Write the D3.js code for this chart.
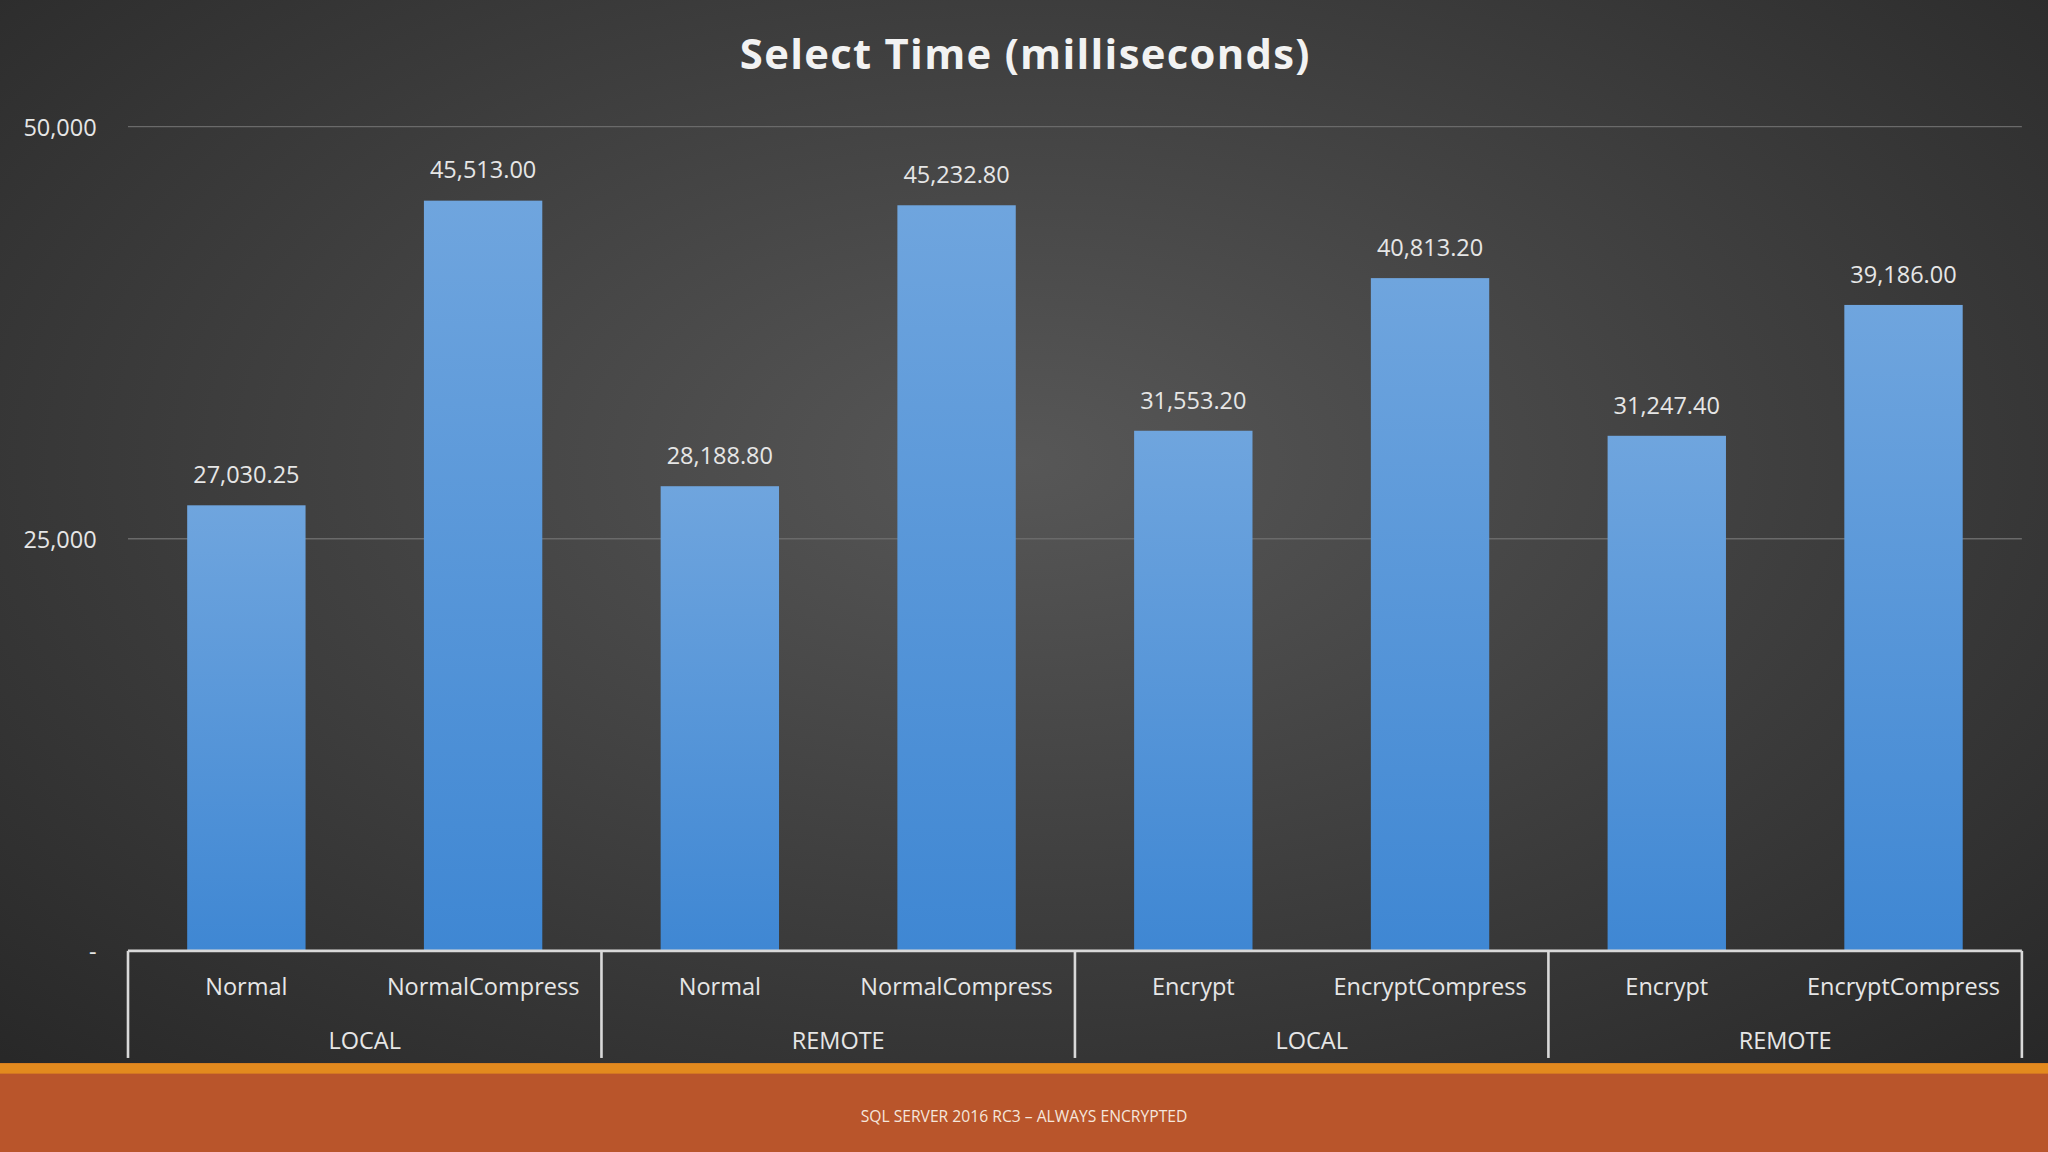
<!DOCTYPE html>
<html>
<head>
<meta charset="utf-8">
<script src="https://cdn.jsdelivr.net/npm/d3@7"></script>
<style>
  html, body { margin: 0; padding: 0; background: #2b2b2b; overflow: hidden; }
  svg { display: block; }
</style>
</head>
<body>
<script>
// chart data
const categories = ["Normal", "NormalCompress", "Normal", "NormalCompress", "Encrypt", "EncryptCompress", "Encrypt", "EncryptCompress"];
const groups = ["LOCAL", "REMOTE", "LOCAL", "REMOTE"];
const values = [27030.25, 45513.00, 28188.80, 45232.80, 31553.20, 40813.20, 31247.40, 39186.00];
const yTicks = [0, 25000, 50000];

// drawn in a 1568x882 space, scaled to the window
const W = 1568, H = 882;
const svg = d3.select("body").append("svg")
    .attr("width", 2048).attr("height", 1152)
    .attr("viewBox", `0 0 ${W} ${H}`);

const defs = svg.append("defs");
const bg = defs.append("radialGradient").attr("id", "bg")
    .attr("cx", "50%").attr("cy", "40%").attr("r", "75%");
bg.append("stop").attr("offset", "0%").attr("stop-color", "#575757");
bg.append("stop").attr("offset", "100%").attr("stop-color", "#262626");
const barGrad = defs.append("linearGradient").attr("id", "bar")
    .attr("x1", 0).attr("y1", 0).attr("x2", 0).attr("y2", 1);
barGrad.append("stop").attr("offset", "0%").attr("stop-color", "#6fa5de");
barGrad.append("stop").attr("offset", "100%").attr("stop-color", "#3f87d3");

svg.append("rect").attr("width", W).attr("height", H).attr("fill", "url(#bg)");

const font = "'Open Sans', 'Liberation Sans', sans-serif";
const plotLeft = 98, plotRight = 1548, plotTop = 97, plotBottom = 728;

const x = d3.scaleBand().domain(d3.range(categories.length))
    .range([plotLeft, plotRight]).paddingInner(0.5).paddingOuter(0.25);
const y = d3.scaleLinear().domain([0, 50000]).range([plotBottom, plotTop]);

// title
svg.append("text").attr("x", 785).attr("y", 53).attr("text-anchor", "middle")
    .attr("fill", "#f2f2f2").attr("font-family", font).attr("font-weight", "bold")
    .attr("font-size", 32).attr("letter-spacing", 1).text("Select Time (milliseconds)");

// gridlines + y labels
const yAxis = svg.append("g");
yTicks.forEach(t => {
    if (t > 0) {
        yAxis.append("line").attr("x1", plotLeft).attr("x2", plotRight)
            .attr("y1", y(t)).attr("y2", y(t))
            .attr("stroke", "#6a6a6a").attr("stroke-width", 1);
    }
    yAxis.append("text").attr("x", 74).attr("y", y(t) + 7).attr("text-anchor", "end")
        .attr("fill", "#e6e6e6").attr("font-family", font).attr("font-size", 18)
        .text(t === 0 ? "-" : d3.format(",")(t));
});

// bars
svg.append("g").selectAll("rect").data(values).join("rect")
    .attr("x", (d, i) => x(i)).attr("width", x.bandwidth())
    .attr("y", d => y(d)).attr("height", d => plotBottom - y(d))
    .attr("fill", "url(#bar)");

svg.append("g").selectAll("text").data(values).join("text")
    .attr("x", (d, i) => x(i) + x.bandwidth() / 2).attr("y", d => y(d) - 17)
    .attr("text-anchor", "middle").attr("fill", "#e6e6e6")
    .attr("font-family", font).attr("font-size", 18)
    .text(d => d3.format(",.2f")(d));

// category axis with group brackets
const ax = svg.append("g").attr("stroke", "#d9d9d9").attr("stroke-width", 2);
ax.append("line").attr("x1", plotLeft).attr("x2", plotRight).attr("y1", plotBottom).attr("y2", plotBottom);
const step = (plotRight - plotLeft) / groups.length;
d3.range(groups.length + 1).forEach(i => {
    ax.append("line").attr("x1", plotLeft + i * step).attr("x2", plotLeft + i * step)
        .attr("y1", plotBottom).attr("y2", 810);
});
svg.append("g").selectAll("text").data(categories).join("text")
    .attr("x", (d, i) => x(i) + x.bandwidth() / 2).attr("y", 762)
    .attr("text-anchor", "middle").attr("fill", "#e6e6e6")
    .attr("font-family", font).attr("font-size", 18).text(d => d);
svg.append("g").selectAll("text").data(groups).join("text")
    .attr("x", (d, i) => plotLeft + (i + 0.5) * step).attr("y", 803)
    .attr("text-anchor", "middle").attr("fill", "#e6e6e6")
    .attr("font-family", font).attr("font-size", 18).text(d => d);

// footer band
svg.append("rect").attr("x", 0).attr("y", 814).attr("width", W).attr("height", 68).attr("fill", "#b9552b");
svg.append("rect").attr("x", 0).attr("y", 814).attr("width", W).attr("height", 8).attr("fill", "#e38a1e");
svg.append("text").attr("x", 784).attr("y", 859).attr("text-anchor", "middle")
    .attr("fill", "#f5e6dc").attr("font-family", font).attr("font-size", 12)
    .text("SQL SERVER 2016 RC3 – ALWAYS ENCRYPTED");
</script>
</body>
</html>
